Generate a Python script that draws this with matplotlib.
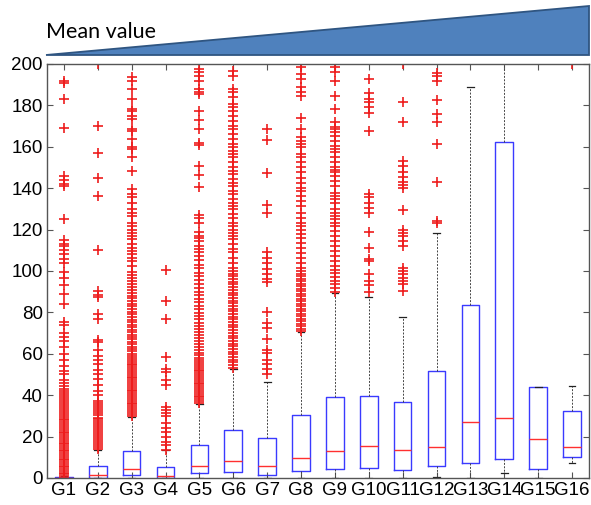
import numpy as np
import matplotlib.pyplot as plt
from matplotlib.patches import Polygon

plt.rcParams['font.family'] = ['Liberation Sans', 'DejaVu Sans']

# group labels and box statistics
groups = ["G%d" % i for i in range(1, 17)]
q1 = [0, 0, 1.5, 0, 2.2, 3, 1.5, 3.5, 4.5, 4.8, 4, 5.6, 7.3, 9.4, 4.5, 10]
medians = [0.1, 1.5, 4.5, 1, 6, 8, 6, 9.7, 13, 15.3, 13.4, 14.8, 27, 29.2, 19, 15]
q3 = [0.4, 6, 13, 5.5, 16, 23, 19.5, 30.3, 39, 39.5, 36.8, 51.6, 83.4, 162.5, 44, 32.3]
whis_lo = [0, 0, 0, 0, 0, 0, 0, 0, 0, 0, 0, 0.5, 0, 2.3, 0, 7.3]
whis_hi = [0.9, 13.7, 29.5, 13.5, 35.5, 52.5, 46.5, 70.5, 89.5, 87.4, 78, 118.4, 189, 240, 44, 44.4]

# outliers per group
g1_out = [0.2, 1.0, 1.8, 2.6, 3.5, 4.3, 5.1, 6.0, 6.8, 7.7, 8.5, 9.4, 10.2, 11.1, 12.0,
          12.8, 13.7, 14.5, 15.4, 16.3, 17.1, 18.0, 18.9, 19.8, 20.6, 21.5, 22.4, 23.3,
          24.1, 25.0, 26.0, 26.9, 27.8, 28.7, 29.6, 30.5, 31.4, 32.4, 33.3, 34.2, 35.2,
          36.1, 37.1, 38.0, 39.0, 40.0, 41.0, 42.1, 43.2, 44.3, 46, 47.5, 50, 51.5, 54,
          57, 60, 63.5, 66, 68, 70, 74, 75.5, 84, 89, 93, 96.5, 99.7, 104, 106, 108, 110,
          112, 113, 115, 125, 141, 142, 144, 146, 169, 183, 191, 192]
g2_out = [14.2, 15.1, 16.0, 17.0, 17.9, 18.8, 19.8, 20.7, 21.6, 22.6, 23.5, 24.5, 25.4,
          26.4, 27.3, 28.3, 29.2, 30.2, 31.2, 32.2, 33.1, 34.1, 35.1, 36.1, 37.1, 40, 42,
          45, 48, 50, 52, 55, 57, 59, 62, 65.5, 66.5, 77, 79, 87.5, 88.5, 90.5, 110, 136,
          145, 157, 170, 200]
g3_out = [30.1, 31.0, 31.9, 32.8, 33.7, 34.6, 35.5, 36.4, 37.3, 38.2, 39.1, 40.0, 40.9,
          41.8, 42.7, 43.6, 44.5, 45.4, 46.3, 47.2, 48.1, 49.0, 49.9, 50.8, 51.7, 52.6,
          53.5, 54.4, 55.3, 56.2, 57.1, 58.0, 59.0, 60.1, 61.2, 62.3, 63.5, 64.6, 65.8,
          67.0, 68.1, 69.3, 70.5, 71.6, 72.8, 74.0, 75.3, 76.5, 77.8, 79.0, 80.2, 81.5,
          82.9, 84.2, 85.5, 86.8, 88.1, 89.5, 90.9, 92.3, 93.6, 95.0, 96.5, 98.0, 99.4,
          102.4, 104.8, 106.5, 108, 109.7, 111.3, 113, 115.3, 117, 118.5, 120, 121.8,
          123.4, 126.6, 128.2, 129.8, 133, 135.5, 137, 139.5, 148.4, 155, 159, 159.7,
          163.7, 167.7, 168.5, 173.4, 175, 177.4, 178.2, 183, 188, 192, 193.5]
g4_out = [13.7, 16, 17.5, 20, 22, 24, 26.5, 30, 31.5, 33, 34.5, 45, 47.5, 51, 52.5, 58.5,
          77, 85.5, 100.5]
g5_out = [36.2, 37.1, 38.0, 38.9, 39.8, 40.7, 41.6, 42.5, 43.4, 44.3, 45.2, 46.1, 47.0,
          47.9, 48.8, 49.7, 50.6, 51.5, 52.4, 53.3, 54.2, 55.1, 56.0, 57.0, 58.1, 59.2,
          60.5, 61.8, 63.2, 64.5, 66.0, 67.4, 68.9, 70.3, 71.8, 73.4, 75.0, 76.6, 78.1,
          79.8, 81.5, 83.1, 84.8, 86.6, 88.3, 90.0, 91.8, 93.7, 95.5, 97.4, 99.2, 101.5,
          103, 105.5, 107, 109, 110.5, 112, 114.5, 116, 117, 119, 123, 125.5, 127, 140.5,
          146.5, 150.5, 161, 162, 168.5, 173, 177.5, 185.5, 186.5, 188, 192, 194, 196,
          197.6]
g6_out = [53.2, 54.5, 55.8, 57.1, 58.4, 59.7, 61.0, 62.3, 63.6, 64.9, 66.2, 67.5, 68.8,
          70.1, 71.4, 72.7, 74.0, 75.3, 76.6, 77.9, 79.2, 80.5, 81.8, 83.1, 84.4, 85.7,
          87.0, 88.3, 89.6, 90.9, 92.2, 93.5, 94.8, 96.1, 97.4, 98.7, 100.0, 101.6, 104,
          106.5, 109, 110.5, 113, 115.3, 117, 118.5, 120, 121.8, 123.4, 125.8, 127.4,
          129.8, 131.4, 133, 134.7, 137, 138.7, 141, 142.7, 144.4, 146.8, 148.4, 150,
          152.5, 155, 156.5, 158, 159.7, 161.3, 163.7, 166, 168.5, 170, 172.5, 175, 177.5,
          179, 180.6, 184, 186.5, 188, 194.4, 196.8]
g7_out = [50, 52.5, 55, 57, 60.5, 62, 67, 72.5, 75, 80, 94.7, 96, 98.4, 101, 104, 106.5,
          109, 128, 132, 147.5, 163.5, 168.5]
g8_out = [71.0, 72.2, 73.4, 74.6, 75.8, 77.0, 78.2, 79.4, 80.6, 81.8, 83.0, 84.2, 85.4,
          86.6, 87.8, 89.0, 90.2, 91.4, 92.6, 93.8, 95.0, 96.2, 97.4, 98.6, 99.8, 101.6,
          104, 106.5, 108.9, 111.3, 113.7, 116, 117.7, 120, 121.8, 123.4, 125.8, 128.2,
          131.5, 133.9, 136.3, 138.7, 140.3, 142.7, 145, 147.6, 150, 152.5, 155, 156.5,
          159.7, 161.3, 163, 164.5, 168.5, 174, 184.7, 186.3, 188.7, 192.7, 195, 198.4, 200]
g9_out = [90.0, 91.8, 93.5, 95.3, 97.0, 98.8, 100.6, 102.4, 104.8, 107.3, 109.7, 112,
          114.5, 117, 119.3, 121.8, 123.4, 125, 126.6, 128.2, 129.8, 133, 134.7, 136.3,
          137.9, 141, 143.5, 146, 147.6, 149, 150, 152.5, 155, 157.3, 159, 160.5, 163,
          165.3, 167, 168.5, 169.4, 171.8, 178.2, 184.7, 192, 196, 198.4, 200]
g10_out = [90, 93, 95, 98.4, 104.7, 105.6, 111, 119, 128, 130.6, 133, 135.5, 137, 167.7,
           176.5, 179, 181.5, 183, 186, 192.7]
g11_out = [90.3, 93.5, 95, 96.8, 98.4, 100, 101.5, 112, 114.5, 117, 118.5, 120, 129.5,
           140, 141.5, 143, 145.6, 148, 150.5, 153, 172, 181.5, 200]
g12_out = [123, 124.2, 143.2, 161.3, 172, 176, 182.6, 191.6, 194.4, 195.6]
g13_out = []
g14_out = []
g15_out = []
g16_out = [200]
outliers = [g1_out, g2_out, g3_out, g4_out, g5_out, g6_out, g7_out, g8_out,
            g9_out, g10_out, g11_out, g12_out, g13_out, g14_out, g15_out, g16_out]

stats = []
for i in range(len(groups)):
    stats.append(dict(label=groups[i], q1=q1[i], med=medians[i], q3=q3[i],
                      whislo=whis_lo[i], whishi=whis_hi[i],
                      fliers=np.array(outliers[i])))

fig = plt.figure(figsize=(5.91, 5.05), dpi=100)
ax = fig.add_axes([0.0795, 0.0535, 0.917, 0.8198])

ax.bxp(stats, positions=range(1, 17), widths=0.52, capwidths=0.2,
       boxprops=dict(color="#3a3aff", linewidth=1.0),
       medianprops=dict(color="#ff3030", linewidth=1.0),
       whiskerprops=dict(color="#444444", linewidth=0.7, linestyle=(0, (2, 1.5))),
       capprops=dict(color="#222222", linewidth=0.9),
       flierprops=dict(marker="+", markeredgecolor="#ee1c1c", markersize=7.5,
                       markeredgewidth=1.2, linestyle="none"))

ax.set_xlim(0.5, 16.5)
ax.set_ylim(0, 200)
ax.set_yticks(range(0, 201, 20))
ax.set_xticklabels(groups)
ax.tick_params(direction="in", top=True, right=True, length=4, width=0.8,
               labelsize=13.5, pad=3, color="#555555")
for sp in ax.spines.values():
    sp.set_color("#555555")
    sp.set_linewidth(1.0)

# "Mean value" wedge above the plot
wedge = Polygon([[46 / 591, 1 - 55 / 505], [589 / 591, 1 - 6 / 505], [589 / 591, 1 - 55 / 505]],
                closed=True, transform=fig.transFigure, facecolor="#4f81bd",
                edgecolor="#2f5581", linewidth=1.3)
fig.patches.append(wedge)
fig.text(46 / 591, 1 - 32 / 505, "Mean value", fontsize=15.5, family=["Lato", "DejaVu Sans"],
         va="center", ha="left", color="black")

fig.savefig("out.png", dpi=100)
